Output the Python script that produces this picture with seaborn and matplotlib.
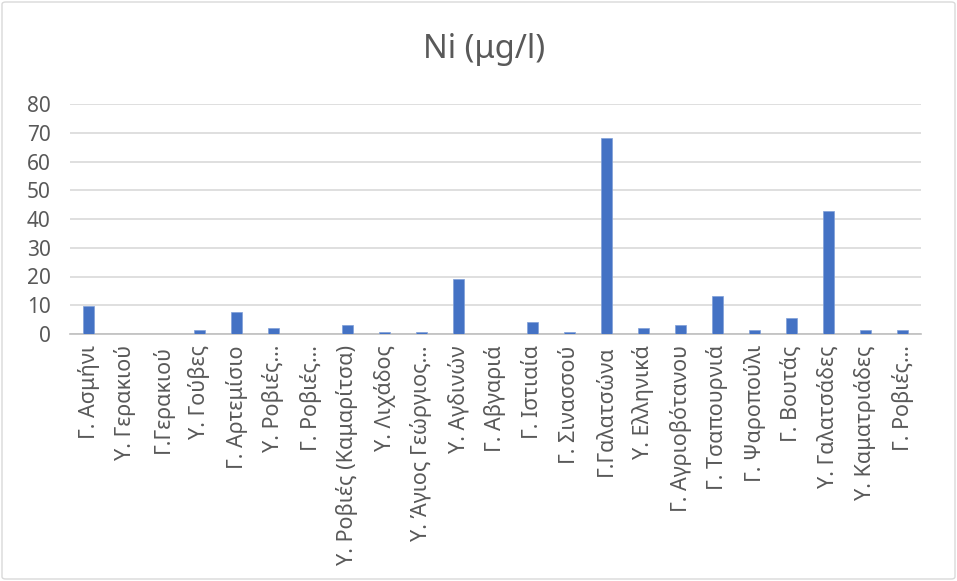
import matplotlib
matplotlib.use("Agg")
import matplotlib.pyplot as plt
from matplotlib.patches import FancyBboxPatch
import seaborn as sns
import pandas as pd

stations = [
    "Γ. Ασμήνι", "Υ. Γερακιού", "Γ.Γερακιού", "Υ. Γούβες", "Γ. Αρτεμίσιο",
    "Υ. Ροβιές…", "Γ. Ροβιές…", "Υ. Ροβιές (Καμαρίτσα)", "Υ. Λιχάδος",
    "Υ. Άγιος Γεώργιος…", "Υ. Αγδινών", "Γ. Αβγαριά", "Γ. Ιστιαία",
    "Γ. Σινασσού", "Γ.Γαλατσώνα", "Υ. Ελληνικά", "Γ. Αγριοβότανου",
    "Γ. Τσαπουρνιά", "Γ. Ψαροπούλι", "Γ. Βουτάς", "Υ. Γαλατσάδες",
    "Υ. Καματριάδες", "Γ. Ροβιές…",
]
ni_values = [
    9.9, 0.0, 0.0, 1.5, 7.8,
    2.0, 0.0, 3.3, 0.7,
    0.7, 19.3, 0.0, 4.3,
    0.7, 68.2, 2.0, 3.3,
    13.1, 1.5, 5.5, 42.7,
    1.5, 1.5,
]
y_ticks = [0, 10, 20, 30, 40, 50, 60, 70, 80]

df = pd.DataFrame({"station": range(len(stations)), "ni": ni_values})

sns.set_theme(style="white")
plt.rcParams["font.family"] = ["Noto Sans", "DejaVu Sans"]

fig = plt.figure(figsize=(9.57, 5.81), dpi=100)
ax = fig.add_axes([70 / 957, 1 - 334 / 581, (921 - 70) / 957, (334 - 104) / 581])

sns.barplot(data=df, x="station", y="ni", color="#4472C4", saturation=1,
            width=0.32, ax=ax, edgecolor="#7F9FD8", linewidth=0.5, zorder=3)

ax.set_ylim(0, 80)
ax.set_yticks(y_ticks)
ax.set_xticks(range(len(stations)))
ax.set_xticklabels(stations, rotation=90, va="top", ha="center")
ax.grid(axis="y", color="#D9D9D9", linewidth=1.2, zorder=0)
ax.grid(axis="x", visible=False)
for side in ["top", "right", "left"]:
    ax.spines[side].set_visible(False)
ax.spines["bottom"].set_color("#BFBFBF")
ax.spines["bottom"].set_linewidth(1.2)
ax.tick_params(axis="y", length=0, pad=14, labelsize=15, labelcolor="#595959")
ax.tick_params(axis="x", length=0, pad=8, labelsize=15.5, labelcolor="#595959")
ax.set_xlabel("")
ax.set_ylabel("")

fig.text(0.506, 1 - 50 / 581, "Ni (μg/l)", ha="center", va="center",
         fontsize=23.5, color="#595959")

border = FancyBboxPatch((2 / 957, 2 / 581), 953 / 957, 577 / 581,
                        boxstyle="round,pad=0,rounding_size=0.004",
                        transform=fig.transFigure, fill=False,
                        edgecolor="#D9D9D9", linewidth=1)
fig.patches.append(border)

fig.savefig("out.png", dpi=100)
